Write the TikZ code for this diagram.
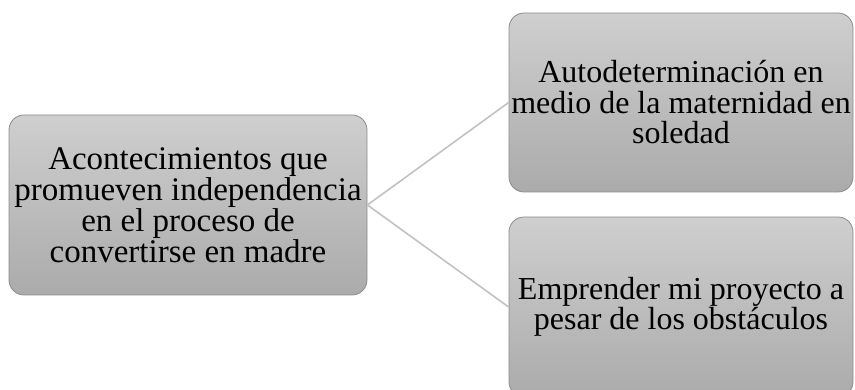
\documentclass[tikz,border=0pt]{standalone}
\usepackage{fontspec}
\setmainfont{Liberation Serif}
\begin{document}
\begin{tikzpicture}[x=1pt,y=1pt,
  box/.style={draw=black!45, line width=0.8pt, rounded corners=15pt,
    top color=black!19, bottom color=black!33, inner sep=0pt,
    font=\fontsize{33}{31}\selectfont, align=center, text=black},
  small/.style={font=\fontsize{32}{30.5}\selectfont},
  conn/.style={draw=black!24, line width=1.6pt}]
\useasboundingbox (0,0) rectangle (855,390);
\node[box, minimum width=358pt, minimum height=180pt] (L) at (188,185)
  {Acontecimientos que\\promueven independencia\\en el proceso de\\convertirse en madre};
\node[box, small, minimum width=344pt, minimum height=179pt] (T) at (681,287.5)
  {Autodeterminación en\\medio de la maternidad en\\soledad};
\node[box, small, minimum width=344pt, minimum height=180pt] (B) at (681,83)
  {Emprender mi proyecto a\\pesar de los obstáculos};
\draw[conn] (L.east) -- (T.west);
\draw[conn] (L.east) -- (B.west);
\end{tikzpicture}
\end{document}
